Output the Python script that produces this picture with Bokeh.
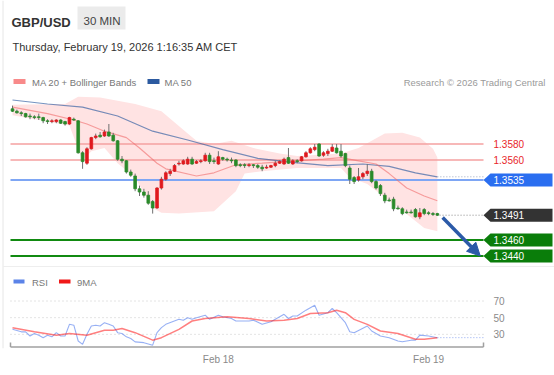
from bokeh.plotting import figure
from bokeh.models import Range1d, FixedTicker, Arrow, NormalHead
from bokeh.core.properties import value
from bokeh.embed import file_html
from bokeh.resources import INLINE

# ---------------- data ----------------
opens = [1.3624,1.3621,1.3619,1.3618,1.3615,1.3614,1.3614,1.3613,1.3609,1.3608,
 1.3608,1.3610,1.3608,1.3605,1.3611,1.3609,1.3569,1.3556,1.3574,1.3588,
 1.3591,1.3590,1.3595,1.3591,1.3584,1.3561,1.3559,1.3545,1.3540,1.3524,
 1.3520,1.3516,1.3508,1.3500,1.3525,1.3536,1.3543,1.3546,1.3555,1.3555,
 1.3555,1.3561,1.3556,1.3558,1.3559,1.3566,1.3559,1.3555,1.3563,1.3561,
 1.3560,1.3560,1.3554,1.3554,1.3553,1.3554,1.3553,1.3551,1.3550,1.3551,
 1.3553,1.3556,1.3555,1.3563,1.3555,1.3559,1.3559,1.3564,1.3569,1.3573,
 1.3580,1.3566,1.3568,1.3571,1.3575,1.3571,1.3568,1.3550,1.3538,1.3535,
 1.3539,1.3543,1.3546,1.3533,1.3528,1.3516,1.3510,1.3511,1.3500,1.3499,
 1.3495,1.3495,1.3498,1.3489,1.3498,1.3494,1.3493,1.3493]
closes = [1.3621,1.3619,1.3618,1.3614,1.3614,1.3613,1.3613,1.3609,1.3608,1.3609,
 1.3610,1.3606,1.3605,1.3613,1.3610,1.3569,1.3558,1.3574,1.3588,1.3590,
 1.3589,1.3595,1.3590,1.3584,1.3561,1.3559,1.3545,1.3541,1.3524,1.3520,
 1.3516,1.3506,1.3500,1.3525,1.3536,1.3544,1.3546,1.3553,1.3556,1.3559,
 1.3561,1.3555,1.3558,1.3559,1.3566,1.3558,1.3558,1.3564,1.3561,1.3560,
 1.3559,1.3553,1.3553,1.3553,1.3554,1.3553,1.3551,1.3549,1.3551,1.3553,
 1.3556,1.3558,1.3561,1.3556,1.3559,1.3558,1.3564,1.3569,1.3574,1.3576,
 1.3565,1.3569,1.3571,1.3576,1.3569,1.3565,1.3553,1.3536,1.3533,1.3539,
 1.3543,1.3546,1.3533,1.3525,1.3518,1.3509,1.3509,1.3499,1.3499,1.3493,
 1.3494,1.3494,1.3489,1.3494,1.3493,1.3493,1.3492,1.3491]
highs = [1.3628,1.3623,1.3621,1.3619,1.3618,1.3616,1.3618,1.3614,1.3611,1.3611,
 1.3611,1.3611,1.3609,1.3614,1.3613,1.3610,1.3571,1.3576,1.3589,1.3593,
 1.3595,1.3598,1.3605,1.3594,1.3585,1.3565,1.3560,1.3548,1.3543,1.3528,
 1.3524,1.3521,1.3510,1.3526,1.3539,1.3546,1.3549,1.3555,1.3559,1.3561,
 1.3564,1.3564,1.3560,1.3561,1.3569,1.3569,1.3563,1.3571,1.3564,1.3563,
 1.3563,1.3561,1.3556,1.3556,1.3556,1.3555,1.3555,1.3554,1.3554,1.3554,
 1.3559,1.3560,1.3563,1.3575,1.3561,1.3561,1.3565,1.3571,1.3576,1.3580,
 1.3581,1.3571,1.3574,1.3580,1.3580,1.3580,1.3569,1.3553,1.3540,1.3550,
 1.3545,1.3555,1.3549,1.3535,1.3530,1.3519,1.3513,1.3514,1.3503,1.3501,
 1.3498,1.3498,1.3500,1.3500,1.3500,1.3496,1.3495,1.3494]
lows = [1.3620,1.3618,1.3615,1.3613,1.3611,1.3611,1.3610,1.3606,1.3605,1.3606,
 1.3606,1.3605,1.3603,1.3604,1.3609,1.3568,1.3549,1.3554,1.3573,1.3586,
 1.3588,1.3589,1.3589,1.3583,1.3559,1.3556,1.3543,1.3539,1.3521,1.3515,
 1.3513,1.3504,1.3493,1.3499,1.3523,1.3534,1.3540,1.3545,1.3553,1.3554,
 1.3554,1.3554,1.3555,1.3556,1.3558,1.3555,1.3555,1.3554,1.3559,1.3558,
 1.3556,1.3551,1.3551,1.3550,1.3551,1.3550,1.3549,1.3546,1.3549,1.3550,
 1.3551,1.3555,1.3554,1.3555,1.3554,1.3556,1.3558,1.3563,1.3568,1.3571,
 1.3564,1.3564,1.3565,1.3570,1.3568,1.3563,1.3551,1.3530,1.3530,1.3533,
 1.3536,1.3540,1.3531,1.3523,1.3515,1.3506,1.3508,1.3496,1.3498,1.3491,
 1.3493,1.3493,1.3488,1.3486,1.3491,1.3491,1.3490,1.3490]

ma50_x = [0, 8, 16, 24, 32, 40, 48, 56, 64, 72, 80, 86, 92, 97]
ma50 = [1.3635, 1.3630, 1.3626, 1.3615, 1.3596, 1.3585, 1.3573, 1.3562, 1.3557,
        1.3553, 1.3555, 1.3552, 1.3544, 1.3539]
ma20_x = [0, 8, 14, 17, 21, 26, 29, 33, 35, 42, 46, 51, 57, 65, 71, 75, 79, 83, 86, 90, 94, 97]
ma20 = [1.3626, 1.3618, 1.3610, 1.3605, 1.3596, 1.3588, 1.3575, 1.3556, 1.3549, 1.3540,
        1.3544, 1.3554, 1.3556, 1.3559, 1.3561, 1.3563, 1.3559, 1.3555, 1.3543, 1.3525,
        1.3515, 1.3509]
bb_up_x = [0, 12, 15, 20, 28, 34, 40, 42, 46, 50, 55, 61, 65, 75, 79, 85, 89, 93, 96, 97]
bb_up = [1.3629, 1.3630, 1.3639, 1.3638, 1.3630, 1.3621, 1.3593, 1.3584, 1.3580, 1.3584,
         1.3575, 1.3568, 1.3565, 1.3568, 1.3575, 1.3593, 1.3594, 1.3588, 1.3574, 1.3563]
bb_lo_x = [0, 13, 16, 18, 21, 24, 28, 32, 34, 38, 46, 51, 53, 57, 65, 75, 77, 81, 86, 91, 94, 97]
bb_lo = [1.3616, 1.3603, 1.3559, 1.3571, 1.3575, 1.3556, 1.3538, 1.3500, 1.3494, 1.3493,
         1.3496, 1.3521, 1.3543, 1.3546, 1.3550, 1.3550, 1.3538, 1.3530, 1.3509, 1.3488,
         1.3475, 1.3471]

rsi_x = [0,2,3,4,5,6,7,8,9,10,11,12,13,14,15,16,17,18,19,20,21,22,23,24,25,26,27,28,30,32,
         33,34,35,38,39,40,41,42,44,45,47,48,50,51,54,55,57,59,60,62,63,64,65,67,69,70,72,73,74,76,
         77,78,81,82,84,86,88,89,91,92,93,95,97]
rsi = [36,33,33,28,31,29,26,29,27,32,28,28,42,41,22,18,30,40,41,40,44,42,40,32,31,27,25,21,20,17,
       32,38,42,48,47,50,48,50,53,48,53,51,49,46,46,47,42,45,48,54,49,52,52,59,65,53,56,61,56,44,
       33,32,40,34,28,26,22,21,23,23,29,28,26]
ma9_x = [0,5,10,13,17,21,23,25,28,32,34,38,41,44,49,54,58,62,65,68,72,74,76,78,81,84,88,92,94,97]
ma9 = [38,33,29,31,29,35,35,37,32,23,26,36,46,49,51,49,46,47,49,55,56,59,56,48,42,34,31,24,24,26]
rsi_levels = [70, 50, 30]

resistances = [1.3580, 1.3560]
pivot = 1.3535
supports = [1.3460, 1.3440]
day_ticks = [47, 95]
day_labels = ["Feb 18", "Feb 19"]

# -------------- layout helpers (screen px -> data) --------------
W, H, FRAME_BOTTOM = 554, 375, 348

def bx(X):
    return (X - 12) / 4.38

def py(Y):
    return 1.3580 - (Y - 143.5) * 0.000125

def ry(Y):
    return 70 - (Y - 300.5) * 1.2

FONT = value("Liberation Sans")

p = figure(width=W, height=H, output_backend="svg", toolbar_location=None,
           x_range=Range1d(bx(0), bx(W)), y_range=Range1d(py(FRAME_BOTTOM), py(0)),
           y_axis_location=None, min_border_left=0, min_border_right=0,
           min_border_top=0, min_border_bottom=H - FRAME_BOTTOM)
p.extra_y_ranges = {"rsi": Range1d(ry(FRAME_BOTTOM), ry(0))}
p.grid.visible = False
p.outline_line_color = None
p.background_fill_color = "white"
p.border_fill_color = "white"

ax = p.xaxis[0]
ax.ticker = FixedTicker(ticks=day_ticks)
ax.major_label_overrides = {t: l for t, l in zip(day_ticks, day_labels)}
ax.axis_line_color = None
ax.major_tick_line_color = None
ax.minor_tick_line_color = None
ax.major_tick_out = 0
ax.major_label_standoff = 5
ax.major_label_text_font = "Liberation Sans"
ax.major_label_text_font_size = "10px"
ax.major_label_text_color = "#8a8a8a"

def txt(X, Y, s, size, color, bold=False, align="left"):
    p.text(x=[bx(X)], y=[py(Y)], text=[s],
           text_font=FONT, text_font_size=value(size), text_color=color,
           text_font_style="bold" if bold else "normal", text_align=align,
           text_baseline="alphabetic")

# ---------------- card frame & header ----------------
p.segment(x0=[bx(2.5)], x1=[bx(2.5)], y0=[py(0)], y1=[py(FRAME_BOTTOM)], line_color="#e6e6e6", line_width=1)
p.quad(left=[bx(77)], right=[bx(125)], top=[py(6)], bottom=[py(29)],
       fill_color="#ebebeb", line_color=None)
txt(11, 21.5, "GBP/USD", "13px", "#333333", bold=True)
txt(83, 20.5, "30 MIN", "11.5px", "#444444")
txt(12, 46, "Thursday, February 19, 2026 1:16:35 AM CET", "11px", "#333333")
p.segment(x0=[bx(2.5)], x1=[bx(W)], y0=[py(266)], y1=[py(266)], line_color="#eeeeee", line_width=1)

# legend (price)
p.quad(left=[bx(13)], right=[bx(25)], top=[py(78.5)], bottom=[py(83.5)], fill_color="#f88a8a", line_color=None)
txt(31.5, 81.5, "MA 20 + Bollinger Bands", "9.5px", "#777777")
p.quad(left=[bx(147)], right=[bx(159)], top=[py(78.5)], bottom=[py(83.5)], fill_color="#2c5aa0", line_color=None)
txt(164, 81.5, "MA 50", "9.5px", "#777777")
txt(545, 81.5, "Research \u00a9 2026 Trading Central", "9.5px", "#9a9a9a", align="right")

# ---------------- price panel ----------------
p.patch(x=bb_up_x + bb_lo_x[::-1], y=bb_up + bb_lo[::-1], fill_color="#ffe3e3", line_color=None)

xl, xr = bx(10), bx(483)
for lv in resistances:
    p.segment(x0=[xl], x1=[xr], y0=[lv], y1=[lv], line_color="#f5a0a0", line_width=1.5)
p.segment(x0=[xl], x1=[xr], y0=[pivot], y1=[pivot], line_color="#7ea6f4", line_width=2)
for lv in supports:
    p.segment(x0=[xl], x1=[xr], y0=[lv], y1=[lv], line_color="#118a11", line_width=2)

p.line(ma50_x, ma50, line_color="#2c5aa0", line_alpha=0.65, line_width=1.2)
p.line(ma20_x, ma20, line_color="#f06a6a", line_alpha=0.6, line_width=1.2)

n = len(closes)
idx = list(range(n))
body_top = [max(o, c) for o, c in zip(opens, closes)]
body_bot = [min(o, c) for o, c in zip(opens, closes)]
cols = ["#e0191e" if c > o else "#2a8a2a" for o, c in zip(opens, closes)]
p.segment(x0=idx, x1=idx, y0=lows, y1=highs, line_color="#707070", line_width=1)
p.vbar(x=idx, width=0.62, top=body_top, bottom=body_bot, fill_color=cols, line_color=cols, line_width=0.8)

# dotted connectors to labels
last = closes[-1]
p.segment(x0=[n - 0.5], x1=[xr], y0=[last], y1=[last], line_color="#888888", line_dash="1 2", line_width=1)
p.segment(x0=[ma50_x[-1]], x1=[xr], y0=[ma50[-1]], y1=[ma50[-1]], line_color="#9aa6c0", line_dash="1 2", line_width=1)

# forecast arrow
p.add_layout(Arrow(x_start=n + 0.2, y_start=last - 0.0003, x_end=n + 8.8, y_end=supports[-1],
                   line_color="#2b5aa8", line_width=3.5,
                   end=NormalHead(size=13, fill_color="#2b5aa8", line_color="#2b5aa8")))

# right-side level labels
tip, body_l, right = bx(483), bx(490), bx(552)
hh = 6.5 * 0.000125
def tag(lv, color):
    p.patch(x=[tip, body_l, right, right, body_l], y=[lv, lv + hh, lv + hh, lv - hh, lv - hh],
            fill_color=color, line_color=None)
    p.text(x=[bx(493)], y=[lv], text=["%.4f" % lv], text_font=FONT, text_font_size=value("10px"),
           text_color="white", text_baseline="middle")

for lv in resistances:
    p.text(x=[bx(493)], y=[lv], text=["%.4f" % lv], text_font=FONT, text_font_size=value("10px"),
           text_color="#e8262a", text_baseline="middle")
tag(pivot, "#2a6ef0")
tag(last, "#333333")
for lv in supports:
    tag(lv, "#0a7d0a")

# ---------------- RSI panel ----------------
p.quad(left=[bx(13)], right=[bx(24)], top=[py(279)], bottom=[py(283)], fill_color="#5b83e8", line_color=None)
txt(31.5, 282, "RSI", "9.5px", "#777777")
p.quad(left=[bx(58.5)], right=[bx(70)], top=[py(279)], bottom=[py(283)], fill_color="#f01818", line_color=None)
txt(76.5, 282, "9MA", "9.5px", "#777777")

for lv in rsi_levels:
    p.segment(x0=[xl], x1=[xr], y0=[lv], y1=[lv], line_color="#c8c8c8", line_dash="1 3",
              line_width=1, y_range_name="rsi")
    p.text(x=[bx(493)], y=[lv], text=[str(lv)], text_font=FONT, text_font_size=value("10px"),
           text_color="#8a8a8a", text_baseline="middle", y_range_name="rsi")

p.line(rsi_x, rsi, line_color="#6b8ff0", line_alpha=0.7, line_width=1.1, y_range_name="rsi")
p.line(ma9_x, ma9, line_color="#ff2a2a", line_alpha=0.6, line_width=1.5, y_range_name="rsi")
p.segment(x0=[rsi_x[-1]], x1=[xr], y0=[rsi[-1]], y1=[rsi[-1]], line_color="#8fa8f0",
          line_dash="1 2", line_width=1, y_range_name="rsi")

# bracket-style time axis
yb, yt = ry(346.5), ry(342)
p.segment(x0=[xl, xl, xr], x1=[xr, xl, xr], y0=[yb, yb, yb], y1=[yb, yt, yt],
          line_color="#a0a0a0", line_width=1.5, y_range_name="rsi")

open("out.html", "w").write(file_html(p, INLINE))
